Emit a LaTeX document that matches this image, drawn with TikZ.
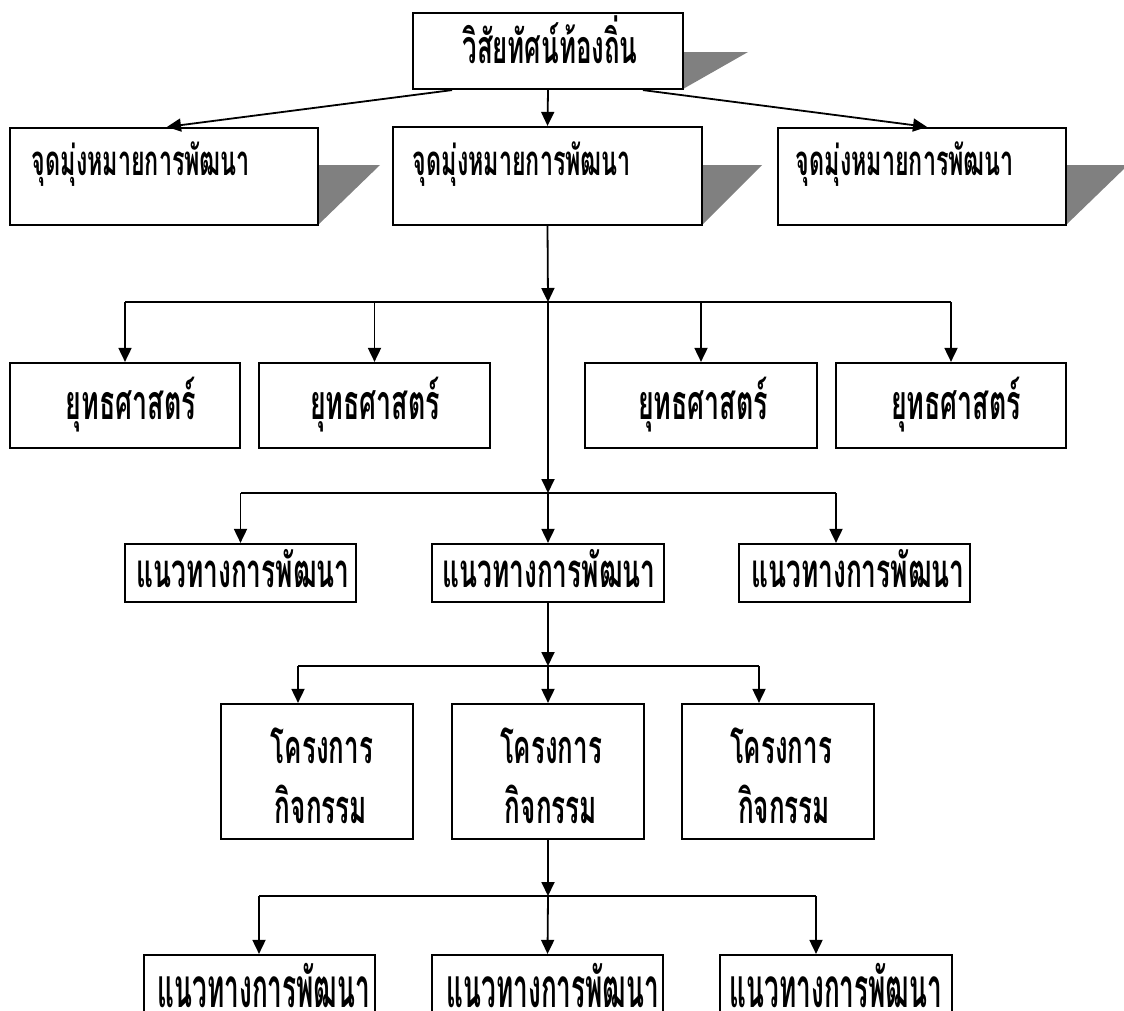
\documentclass[tikz,border=0pt]{standalone}
\usepackage{fontspec}
\newfontfamily\thaifont[Script=Thai]{Loma}
\usetikzlibrary{arrows.meta,calc}
\tikzset{
  box/.style={draw, line width=2.2pt, fill=white, inner sep=0pt, rectangle},
  conn/.style={line width=1.8pt},
  arr/.style={conn, -{Triangle[length=14pt,width=13pt]}},
  shade/.style={fill=black!50, draw=none},
  txt/.style={anchor=base, inner sep=0pt},
}
\newcommand\fitw[3][1.8]{\resizebox{#2}{!}{\scalebox{1}[#1]{\thaifont\bfseries #3}}}
\begin{document}
\begin{tikzpicture}[x=1pt,y=-1pt]
\useasboundingbox (0,0) rectangle (1124,1010);
\clip (0,0) rectangle (1124,1010);
% shadows
\fill[shade] (683,52) -- (748,52) -- (683,89) -- cycle;
\fill[shade] (318,165) -- (380,165) -- (318,225) -- cycle;
\fill[shade] (702,165) -- (762,165) -- (702,225) -- cycle;
\fill[shade] (1066,165) -- (1128,165) -- (1066,225) -- cycle;
% boxes
\node[box, minimum width=270pt, minimum height=76pt] (vis) at (548,51) {};
\node[box, minimum width=308pt, minimum height=97pt] (g1) at (164,176.5) {};
\node[box, minimum width=309pt, minimum height=98pt] (g2) at (547.5,176) {};
\node[box, minimum width=288pt, minimum height=97pt] (g3) at (922,176.5) {};
\node[box, minimum width=230pt, minimum height=85pt] (s1) at (125,405.5) {};
\node[box, minimum width=231pt, minimum height=85pt] (s2) at (374.5,405.5) {};
\node[box, minimum width=232pt, minimum height=85pt] (s3) at (701,405.5) {};
\node[box, minimum width=230pt, minimum height=85pt] (s4) at (951,405.5) {};
\node[box, minimum width=231pt, minimum height=58pt] (d1) at (240.5,573) {};
\node[box, minimum width=232pt, minimum height=58pt] (d2) at (548,573) {};
\node[box, minimum width=231pt, minimum height=58pt] (d3) at (854.5,573) {};
\node[box, minimum width=192pt, minimum height=135pt] (k1) at (317,771.5) {};
\node[box, minimum width=192pt, minimum height=135pt] (k2) at (548,771.5) {};
\node[box, minimum width=192pt, minimum height=135pt] (k3) at (778,771.5) {};
\node[box, minimum width=231pt, minimum height=90pt] (b1) at (259.5,1000) {};
\node[box, minimum width=231pt, minimum height=90pt] (b2) at (547.5,1000) {};
\node[box, minimum width=232pt, minimum height=90pt] (b3) at (836,1000) {};
% texts
\node[txt] (vist) at (550,63) {\fitw{175pt}{วิสัยทัศน์ท้องถิ่น}};
\node[txt] (g1t) at (141,175) {\fitw{218pt}{จุดมุ่งหมายการพัฒนา}};
\node[txt] (g2t) at (522,175) {\fitw{218pt}{จุดมุ่งหมายการพัฒนา}};
\node[txt] (g3t) at (905,175) {\fitw{218pt}{จุดมุ่งหมายการพัฒนา}};
\node[txt] (s1t) at (131,419) {\fitw{130pt}{ยุทธศาสตร์}};
\node[txt] (s2t) at (375,419) {\fitw{130pt}{ยุทธศาสตร์}};
\node[txt] (s3t) at (703,419) {\fitw{130pt}{ยุทธศาสตร์}};
\node[txt] (s4t) at (956,419) {\fitw{130pt}{ยุทธศาสตร์}};
\node[txt] (d1t) at (243,587) {\fitw{213pt}{แนวทางการพัฒนา}};
\node[txt] (d2t) at (549,587) {\fitw{213pt}{แนวทางการพัฒนา}};
\node[txt] (d3t) at (858,587) {\fitw{213pt}{แนวทางการพัฒนา}};
\node[txt] (k1a) at (322,763) {\fitw{102pt}{โครงการ}};
\node[txt] (k1b) at (321,823) {\fitw{92pt}{กิจกรรม}};
\node[txt] (k2a) at (551,763) {\fitw{102pt}{โครงการ}};
\node[txt] (k2b) at (551,823) {\fitw{92pt}{กิจกรรม}};
\node[txt] (k3a) at (781,763) {\fitw{102pt}{โครงการ}};
\node[txt] (k3b) at (784,823) {\fitw{92pt}{กิจกรรม}};
\node[txt] (b1t) at (264,1007) {\fitw[2.1]{212pt}{แนวทางการพัฒนา}};
\node[txt] (b2t) at (553,1007) {\fitw[2.1]{212pt}{แนวทางการพัฒนา}};
\node[txt] (b3t) at (836,1007) {\fitw[2.1]{212pt}{แนวทางการพัฒนา}};
% connectors top
\draw[arr] (vis.south) -- (g2.north);
\draw[arr] ([xshift=-96pt]vis.south) -- ([xshift=3pt]g1.north);
\draw[arr] ([xshift=95pt]vis.south) -- ([xshift=5pt]g3.north);
% strategies
\coordinate (j1) at (548,302);
\draw[arr] (g2.south) -- (j1);
\draw[conn] (j1 -| s1.north) -- (j1 -| s4.north);
\draw[arr] (j1 -| s1.north) -- (s1.north);
\draw[arr] (j1 -| s2.north) -- (s2.north);
\draw[arr] (j1 -| s3.north) -- (s3.north);
\draw[arr] (j1 -| s4.north) -- (s4.north);
% guidelines
\coordinate (j2) at (548,493);
\coordinate (d3n) at ([xshift=-18.5pt]d3.north);
\draw[arr] (j1) -- (j2);
\draw[conn] (j2 -| d1.north) -- (j2 -| d3n);
\draw[arr] (j2 -| d1.north) -- (d1.north);
\draw[arr] (j2) -- (d2.north);
\draw[arr] (j2 -| d3n) -- (d3n);
% projects
\coordinate (j3) at (548,666);
\coordinate (k1n) at ([xshift=-19pt]k1.north);
\coordinate (k3n) at ([xshift=-19pt]k3.north);
\draw[arr] (d2.south) -- (j3);
\draw[conn] (j3 -| k1n) -- (j3 -| k3n);
\draw[arr] (j3 -| k1n) -- (k1n);
\draw[arr] (j3) -- (k2.north);
\draw[arr] (j3 -| k3n) -- (k3n);
% bottom
\coordinate (j4) at (548,896);
\coordinate (b1n) at ([xshift=-0.5pt]b1.north);
\coordinate (b3n) at ([xshift=-20pt]b3.north);
\draw[arr] (k2.south) -- (j4);
\draw[conn] (j4 -| b1n) -- (j4 -| b3n);
\draw[arr] (j4 -| b1n) -- (b1n);
\draw[arr] (j4) -- (b2.north);
\draw[arr] (j4 -| b3n) -- (b3n);
\end{tikzpicture}
\end{document}
